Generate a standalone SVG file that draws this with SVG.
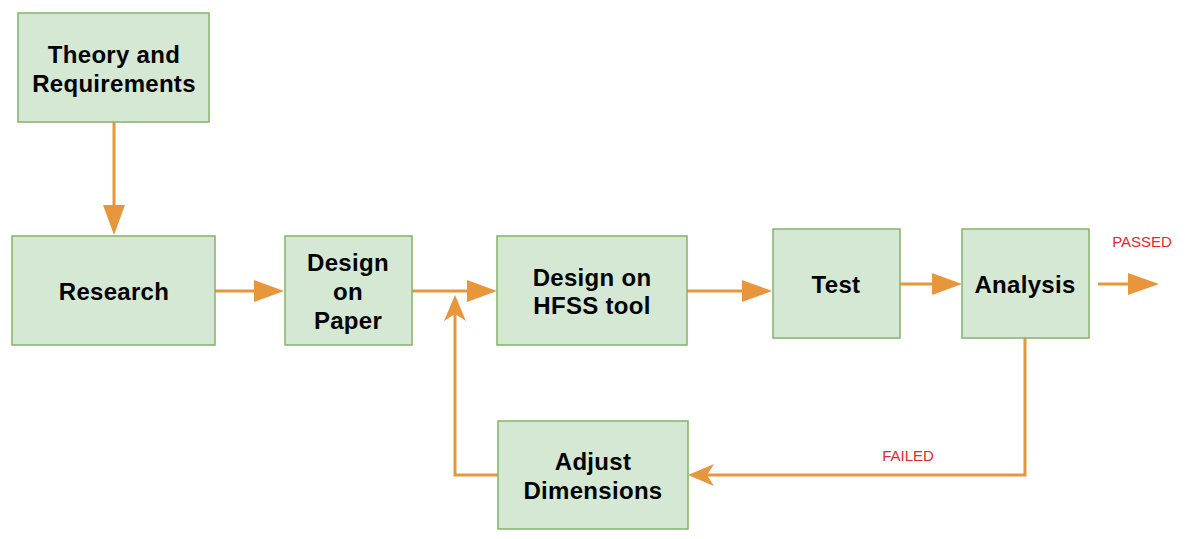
<svg xmlns="http://www.w3.org/2000/svg" width="1194" height="539" viewBox="0 0 1194 539">
<style>
.box{fill:#D5E8D4;stroke:#82B366;stroke-width:1.5}
.lbl{font-family:"Liberation Sans",Arial,sans-serif;font-weight:bold;font-size:24px;letter-spacing:0.3px;fill:#000;text-anchor:middle}
.edge{fill:none;stroke:#E8963C;stroke-width:3}
.head{fill:#E8963C;stroke:none}
.note{font-family:"Liberation Sans",Arial,sans-serif;font-size:15px;fill:#E0282E;text-anchor:middle}
</style>
<rect width="1194" height="539" fill="#FFFFFF"/>
<g id="connectors">
<path class="edge" d="M114,122 V207"/>
<path class="head" d="M103,205 L125,205 L114,235 Z"/>
<path class="edge" d="M215,291 H256"/>
<path class="head" d="M254,280 L284,291 L254,302 Z"/>
<path class="edge" d="M412,291 H469"/>
<path class="head" d="M467,280 L497,291 L467,302 Z"/>
<path class="edge" d="M687,291 H744"/>
<path class="head" d="M742,280 L772,291 L742,302 Z"/>
<path class="edge" d="M900,284 H934"/>
<path class="head" d="M932,273 L962,284 L932,295 Z"/>
<path class="edge" d="M1098,284 H1130"/>
<path class="head" d="M1128,273 L1159,284 L1128,295 Z"/>
<path class="edge" d="M1025,338 V475 H694"/>
<path class="head" d="M688,475 L714,464 L707,475 L714,486 Z"/>
<path class="edge" d="M498,475 H455 V302"/>
<path class="head" d="M455,295 L466,321 L455,314 L444,321 Z"/>
</g>
<text class="note" x="1142" y="247">PASSED</text>
<text class="note" x="908" y="461">FAILED</text>
<g id="theory">
<rect class="box" x="18" y="13" width="191" height="109"/>
<text class="lbl" x="114" y="63">Theory and</text>
<text class="lbl" x="114" y="92">Requirements</text>
</g>
<g id="research">
<rect class="box" x="12" y="236" width="203" height="109"/>
<text class="lbl" x="114" y="300">Research</text>
</g>
<g id="design-paper">
<rect class="box" x="285" y="236" width="127" height="109"/>
<text class="lbl" x="348" y="271">Design</text>
<text class="lbl" x="348" y="300">on</text>
<text class="lbl" x="348" y="329">Paper</text>
</g>
<g id="design-hfss">
<rect class="box" x="497" y="236" width="190" height="109"/>
<text class="lbl" x="592" y="286">Design on</text>
<text class="lbl" x="592" y="314">HFSS tool</text>
</g>
<g id="test">
<rect class="box" x="773" y="229" width="127" height="109"/>
<text class="lbl" x="836" y="293">Test</text>
</g>
<g id="analysis">
<rect class="box" x="962" y="229" width="127" height="109"/>
<text class="lbl" x="1025" y="293">Analysis</text>
</g>
<g id="adjust">
<rect class="box" x="498" y="421" width="190" height="108"/>
<text class="lbl" x="593" y="470">Adjust</text>
<text class="lbl" x="593" y="499">Dimensions</text>
</g>
</svg>
